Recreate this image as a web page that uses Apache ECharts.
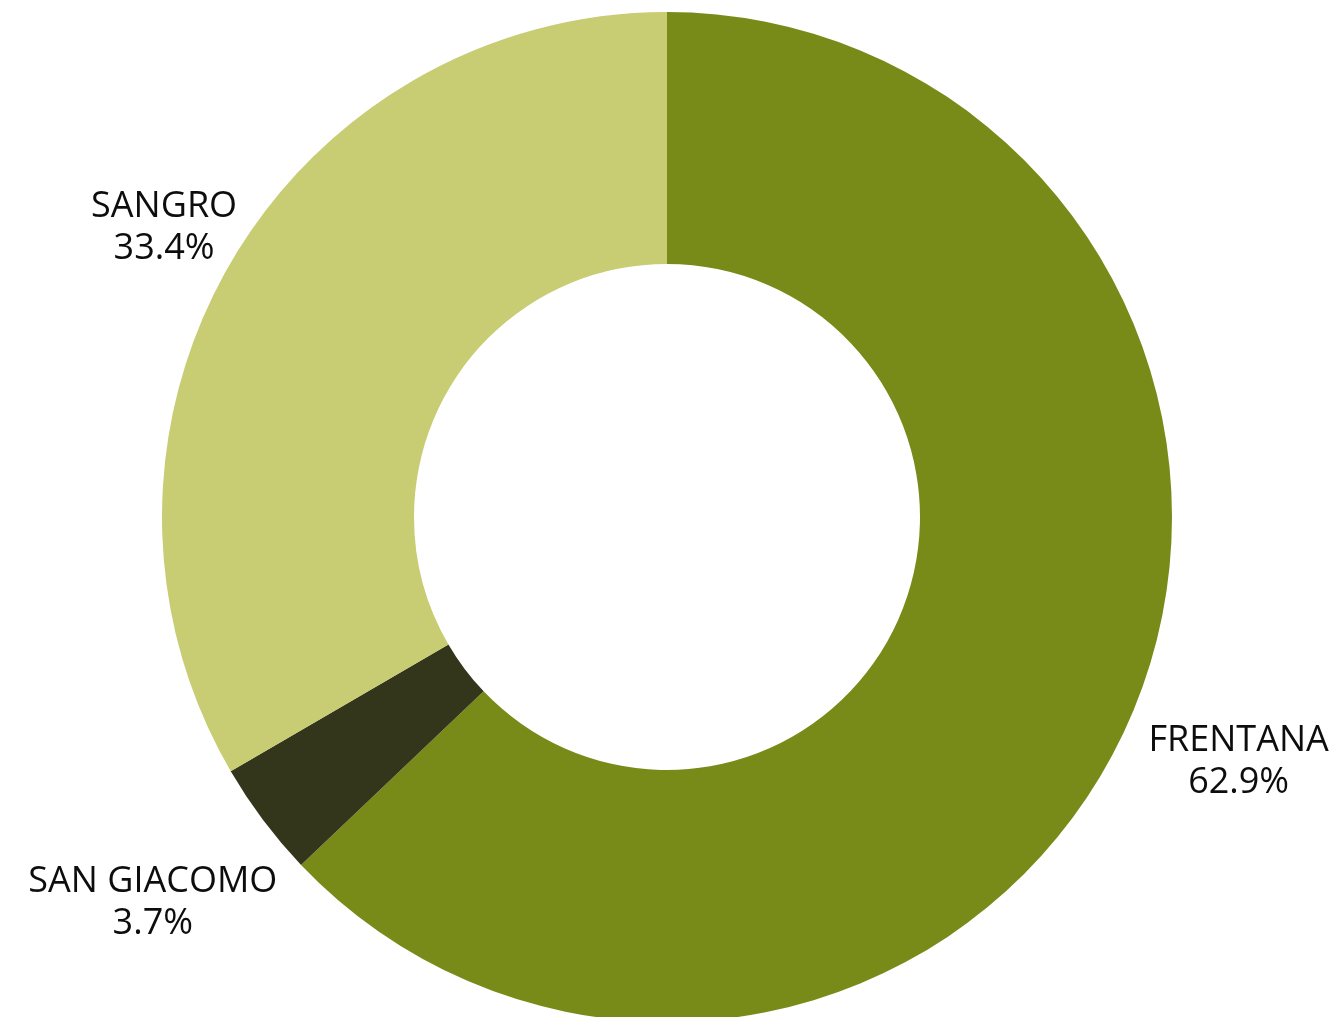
<!DOCTYPE html>
<html>
<head>
<meta charset="utf-8">
<style>
  html, body { margin: 0; padding: 0; background: #ffffff; }
  #chart { width: 1334px; height: 1017px; }
</style>
<script src="https://cdn.jsdelivr.net/npm/echarts@6/dist/echarts.min.js"></script>
</head>
<body>
<div id="chart"></div>
<script>
// Share by zone, clockwise from 12 o'clock
const categories = ['FRENTANA', 'SAN GIACOMO', 'SANGRO'];
const shares = [62.9, 3.7, 33.4];
const colors = ['#788b19', '#34361c', '#c8cc72'];

// Ring geometry and how far out each label sits from the centre
const cx = 667, cy = 517;
const innerR = 253, outerR = 505;
const labelRadius = [622, 643, 580];
const labelFontSize = 36;
const labelLineHeight = 42;

const total = shares.reduce((s, v) => s + v, 0);
const midAngles = [];
let acc = 0;
shares.forEach(v => {
  midAngles.push(((acc + v / 2) / total) * 2 * Math.PI);
  acc += v;
});

const chart = echarts.init(document.getElementById('chart'), null, { renderer: 'canvas' });

chart.setOption({
  animation: false,
  series: [{
    type: 'pie',
    center: [cx, cy],
    radius: [innerR, outerR],
    startAngle: 90,
    clockwise: true,
    avoidLabelOverlap: false,
    emphasis: { disabled: true },
    itemStyle: { borderWidth: 0 },
    label: {
      show: true,
      position: 'outside',
      formatter: p => p.name + '\n' + p.value.toFixed(1) + '%',
      fontFamily: '"Open Sans", sans-serif',
      fontSize: labelFontSize,
      lineHeight: labelLineHeight,
      color: '#0d0d0d',
      align: 'center'
    },
    labelLine: { show: false },
    labelLayout: function (p) {
      const i = p.dataIndex;
      const a = midAngles[i];
      const r = labelRadius[i];
      return {
        x: cx + r * Math.sin(a),
        y: cy - r * Math.cos(a),
        align: 'center',
        verticalAlign: 'middle',
        fontSize: labelFontSize
      };
    },
    data: categories.map((name, i) => ({
      name: name,
      value: shares[i],
      itemStyle: { color: colors[i] }
    }))
  }]
});
</script>
</body>
</html>
